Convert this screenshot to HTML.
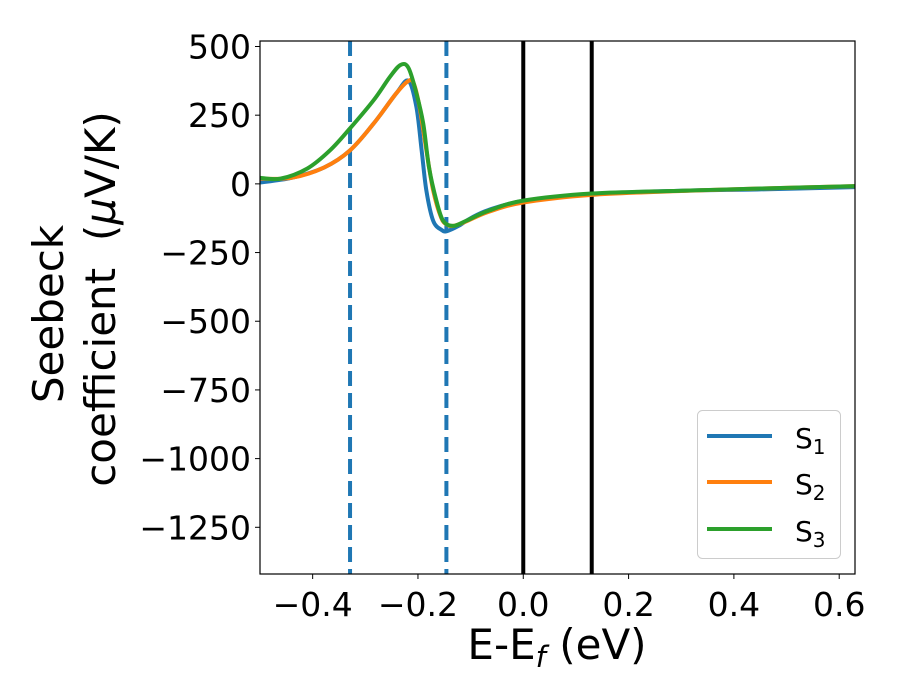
<!DOCTYPE html>
<html><head><meta charset="utf-8"><style>
body{margin:0;background:#fff}
svg{display:block;font-family:"DejaVu Sans","Liberation Sans",sans-serif}
</style></head><body>
<svg id="chart" width="900" height="700" viewBox="0 0 900 700"></svg>
<script>
const xTicks=[-0.4,-0.2,0.0,0.2,0.4,0.6];
const yTicks=[500,250,0,-250,-500,-750,-1000,-1250];
const dashedLines=[-0.329,-0.146];
const solidLines=[0.0,0.13];
const s1x=[-0.5,-0.44,-0.378,-0.329,-0.284,-0.241,-0.218,-0.203,-0.193,-0.184,-0.171,-0.155,-0.145,-0.123,-0.1,-0.066,0,0.13,0.3,0.45,0.63];
const s1y=[5,22,60,122,220,330,375,280,122,-25,-135,-168,-172,-153,-125,-95,-62,-37,-25,-20,-12];
const s2x=[-0.5,-0.44,-0.378,-0.329,-0.284,-0.241,-0.218,-0.208,-0.197,-0.184,-0.171,-0.156,-0.145,-0.133,-0.11,-0.066,0,0.13,0.3,0.45,0.63];
const s2y=[19,22,60,122,220,330,375,365,280,122,-25,-123,-148,-153,-138,-102,-68,-40,-26,-17,-8];
const s3x=[-0.5,-0.461,-0.41,-0.367,-0.329,-0.284,-0.253,-0.233,-0.218,-0.203,-0.19,-0.179,-0.165,-0.152,-0.133,-0.109,-0.066,0,0.13,0.3,0.45,0.63];
const s3y=[22,19,56,122,202,305,390,433,422,330,220,60,-61,-135,-153,-135,-98,-61,-35,-25,-17,-8];
const L=260,R=855,T=41,B=574,XMIN=-0.5,XMAX=0.63,YMIN=-1420,YMAX=520;
const sx=v=>L+(v-XMIN)/(XMAX-XMIN)*(R-L);
const sy=v=>B-(v-YMIN)/(YMAX-YMIN)*(B-T);
const NS="http://www.w3.org/2000/svg";
const svg=document.getElementById('chart');
function mk(tag,attrs,parent){const e=document.createElementNS(NS,tag);for(const k in attrs)e.setAttribute(k,attrs[k]);(parent||svg).appendChild(e);return e;}
const clip=mk('clipPath',{id:'pc'});mk('rect',{x:L,y:T,width:R-L,height:B-T},clip);
const plot=mk('g',{'clip-path':'url(#pc)'});


dashedLines.forEach(v=>{const l=mk('line',{x1:sx(v),x2:sx(v),y1:T,y2:B,stroke:'#1f77b4','stroke-width':4,'stroke-dasharray':'15,7'},plot);

});
solidLines.forEach(v=>{const l=mk('line',{x1:sx(v),x2:sx(v),y1:T,y2:B,stroke:'#000','stroke-width':4},plot);

});
function path(xs,ys){const p=xs.map((x,i)=>[sx(x),sy(ys[i])]);let d='M'+p[0][0]+','+p[0][1];
for(let i=0;i<p.length-1;i++){const p0=p[Math.max(0,i-1)],p1=p[i],p2=p[i+1],p3=p[Math.min(p.length-1,i+2)];
d+=' C'+(p1[0]+(p2[0]-p0[0])/6)+','+(p1[1]+(p2[1]-p0[1])/6)+' '+(p2[0]-(p3[0]-p1[0])/6)+','+(p2[1]-(p3[1]-p1[1])/6)+' '+p2[0]+','+p2[1];}
return d;}
[[s1x,s1y,'#1f77b4','series-s1'],[s2x,s2y,'#ff7f0e','series-s2'],[s3x,s3y,'#2ca02c','series-s3']].forEach(s=>{
const e=mk('path',{d:path(s[0],s[1]),fill:'none',stroke:s[2],'stroke-width':4,'stroke-linejoin':'round'},plot);

});
const frame=mk('rect',{x:L,y:T,width:R-L,height:B-T,fill:'none',stroke:'#000','stroke-width':1.2});


xTicks.forEach(v=>{mk('line',{x1:sx(v),x2:sx(v),y1:B,y2:B+5,stroke:'#000','stroke-width':1});
const t=mk('text',{x:sx(v),y:B+42,'text-anchor':'middle','font-size':33});t.textContent=(v<0?'\u2212':'')+Math.abs(v).toFixed(1);

});
yTicks.forEach(v=>{mk('line',{x1:L-5,x2:L,y1:sy(v),y2:sy(v),stroke:'#000','stroke-width':1});
const t=mk('text',{x:L-9,y:sy(v)+12,'text-anchor':'end','font-size':33});t.textContent=(v<0?'\u2212':'')+Math.abs(v);

});
</script>
<svg style="position:absolute;left:0;top:0" width="900" height="700">
<text x="557" y="659" text-anchor="middle" font-size="42">E-E<tspan font-size="29" font-style="italic" dy="8">f</tspan><tspan dy="-8"> (eV)</tspan></text>
<text transform="translate(63,314) rotate(-90)" text-anchor="middle" font-size="42">Seebeck</text>
<text transform="translate(115,299) rotate(-90)" text-anchor="middle" font-size="42">coefficient&#160;&#160;(<tspan font-style="italic">μ</tspan>V/K)</text>
<g>
<rect x="697.5" y="410.5" width="143" height="148" rx="5" fill="#fff" stroke="#ccc" stroke-width="1"/>
<line x1="707" x2="772" y1="436" y2="436" stroke="#1f77b4" stroke-width="4"/>
<text x="795" y="448" font-size="28">S<tspan font-size="20" dy="6">1</tspan></text>
<line x1="707" x2="772" y1="482" y2="482" stroke="#ff7f0e" stroke-width="4"/>
<text x="795" y="494" font-size="28">S<tspan font-size="20" dy="6">2</tspan></text>
<line x1="707" x2="772" y1="529" y2="529" stroke="#2ca02c" stroke-width="4"/>
<text x="795" y="541" font-size="28">S<tspan font-size="20" dy="6">3</tspan></text>
</g>
</svg>
</body></html>
